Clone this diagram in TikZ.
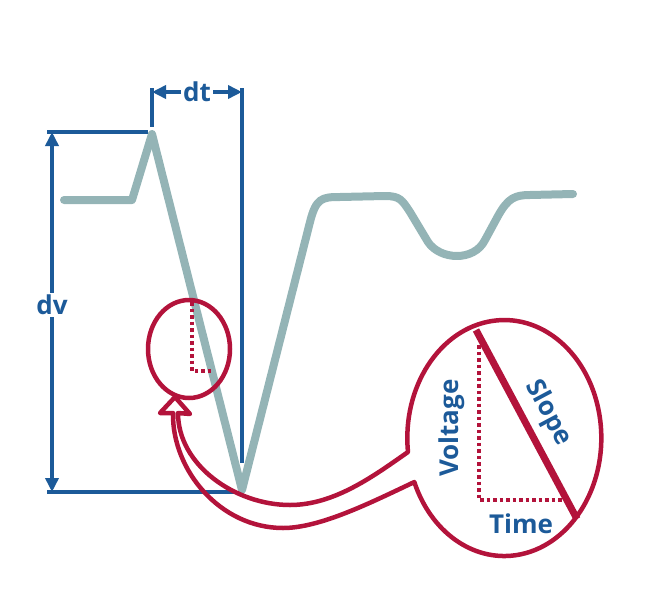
\documentclass[tikz,border=0pt]{standalone}
\usepackage{fontspec}
\setmainfont{Open Sans}
\usetikzlibrary{arrows.meta}
\definecolor{deepblue}{HTML}{1C5A99}
\definecolor{deepred}{HTML}{B3133B}
\definecolor{wavegray}{HTML}{94B4B6}

\begin{document}
\begin{tikzpicture}[x=1pt,y=-1pt,
    dim/.style={deepblue,line width=3.5pt},
    dimarrow/.style={dim,{Triangle[length=14pt,width=13pt]}-{Triangle[length=14pt,width=13pt]}},
    lbl/.style={text=deepblue,inner sep=2pt,font=\bfseries\fontsize{26}{26}\selectfont},
    loupe/.style={deepred,line width=4.5pt,line join=round},
    hint/.style={deepred,line width=3.5pt,dash pattern=on 3.5pt off 3pt}]
    \useasboundingbox (0,0) rectangle (658,602);
    % signal
    \draw[wavegray,line width=8pt,line cap=round,line join=round]
      (64,200) -- (132,200) -- (152,134) -- (242,490) -- (310,222)
      .. controls (316,198) and (322,197) .. (340,197) -- (385,196)
      .. controls (400,196) and (402,200) .. (410,212) -- (428,242)
      .. controls (440,260) and (474,262) .. (485,240) -- (498,216)
      .. controls (508,198) and (515,195) .. (530,195) -- (573,194);
    % dimension lines
    \coordinate (dvtop) at (52,132);
    \coordinate (dvbot) at (52,492);
    \coordinate (dtleft) at (152,92);
    \coordinate (dtright) at (242,92);
    \draw[dim] (47,132) -- (148,132);
    \draw[dim] (47,492) -- (234,492);
    \draw[dim] (152,88) -- (152,127);
    \draw[dim] (242,88) -- (242,463);
    \draw[dimarrow] (dvtop) -- node[lbl,fill=white,pos=0.48] (dv) {dv} (dvbot);
    \draw[dimarrow] (dtleft) -- node[lbl,fill=white] (dt) {dt} (dtright);
    % small loupe
    \draw[loupe] (189,349) ellipse [x radius=41, y radius=49];
    \draw[hint] (192,302) -- (192,371) -- (212,371);
    % big loupe with its tube
    \draw[loupe] (408,452) arc[start angle=173.2, end angle=518.1, x radius=97, y radius=118]
      .. controls (370,503) and (320,528) .. (283,528)
      .. controls (220,528) and (172,470) .. (173,413)
      -- (160,413) -- (175,397) -- (190,414) -- (178,413)
      .. controls (178,465) and (235,505) .. (290,505)
      .. controls (335,505) and (375,475) .. cycle;
    \draw[hint] (479,345) -- (479,500) -- (563,500);
    \draw[deepred,line width=7pt] (476,330) -- (577,519);
    \node[lbl,rotate=90] (volt) at (452,428) {Voltage};
    \node[lbl,rotate=-62] (slope) at (548,413) {Slope};
    \node[lbl] (time) at (521,524) {Time};
\end{tikzpicture}
\end{document}
